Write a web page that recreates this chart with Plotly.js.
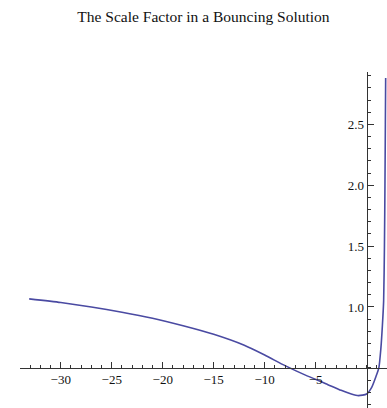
<!DOCTYPE html>
<html>
<head>
<meta charset="utf-8">
<script src="https://cdn.plot.ly/plotly-3.0.1.min.js"></script>
<style>
  html, body { margin: 0; padding: 0; background: #fff; }
  #chart { width: 387px; height: 408px; }
</style>
</head>
<body>
<div id="chart"></div>
<script>
// Scale factor a(t) sampled along the bounce
const tValues = [-33.1, -30, -27, -24, -21, -18, -15, -12, -10, -8, -6, -4, -2.5, -1.5, -0.8, 0, 0.5, 0.9, 1.2, 1.4, 1.55, 1.67, 1.75, 1.8, 1.84, 1.87];
const aValues = [1.066, 1.036, 1.0, 0.957, 0.907, 0.845, 0.775, 0.685, 0.605, 0.518, 0.44, 0.37, 0.315, 0.285, 0.272, 0.285, 0.34, 0.425, 0.5, 0.66, 0.85, 1.05, 1.5, 2.0, 2.5, 2.88];

const xTickVals = [-30, -25, -20, -15, -10, -5];
const yTickVals = [1.0, 1.5, 2.0, 2.5];
const yTickText = ['1.0', '1.5', '2.0', '2.5'];

const xRange = [-34, 2.0];
const yRange = [0.17, 2.93];
const xCross = 0.5;   // the t-axis sits at a = 0.5
const yCross = 0;     // the a-axis sits at t = 0

const serif = 'Liberation Serif, Times New Roman, serif';
const axisColor = '#333';

const trace = {
  x: tValues,
  y: aValues,
  type: 'scatter',
  mode: 'lines',
  line: { color: '#4a4aa2', width: 1.6, shape: 'spline', smoothing: 0.6 },
  hoverinfo: 'skip'
};

const layout = {
  width: 387,
  height: 408,
  margin: { l: 20, r: 0, t: 72, b: 0 },
  paper_bgcolor: '#fff',
  plot_bgcolor: '#fff',
  showlegend: false,
  title: {
    text: 'The Scale Factor in a Bouncing Solution',
    font: { family: serif, size: 15.5, color: '#111' },
    x: 0.5, xref: 'paper', xanchor: 'center',
    y: 1 - 17 / 408, yref: 'container', yanchor: 'middle'
  },
  xaxis: {
    range: xRange,
    anchor: 'free',
    position: (xCross - yRange[0]) / (yRange[1] - yRange[0]),
    showgrid: false,
    zeroline: false,
    showline: true,
    linecolor: axisColor,
    linewidth: 1,
    tickmode: 'array',
    tickvals: xTickVals,
    ticks: 'inside',
    ticklen: 6,
    tickcolor: axisColor,
    tickwidth: 1,
    tickfont: { family: serif, size: 13, color: '#111' },
    minor: { tickmode: 'linear', tick0: 0, dtick: 1, ticks: 'inside', ticklen: 3, tickcolor: axisColor }
  },
  yaxis: {
    range: yRange,
    anchor: 'free',
    position: (yCross - xRange[0]) / (xRange[1] - xRange[0]),
    side: 'left',
    showgrid: false,
    zeroline: false,
    showline: true,
    linecolor: axisColor,
    linewidth: 1,
    tickmode: 'array',
    tickvals: yTickVals,
    ticktext: yTickText,
    ticks: 'inside',
    ticklen: 6,
    tickcolor: axisColor,
    tickwidth: 1,
    tickfont: { family: serif, size: 13, color: '#111' },
    minor: { tickmode: 'linear', tick0: 0, dtick: 0.1, ticks: 'inside', ticklen: 3, tickcolor: axisColor }
  },
  annotations: [{
    text: 'a(t)',
    x: yCross, xref: 'x', xanchor: 'center',
    y: 3.16, yref: 'y', yanchor: 'middle',
    showarrow: false,
    font: { family: serif, size: 11, color: '#333' }
  }]
};

Plotly.newPlot('chart', [trace], layout, { displayModeBar: false, staticPlot: true });
</script>
</body>
</html>
